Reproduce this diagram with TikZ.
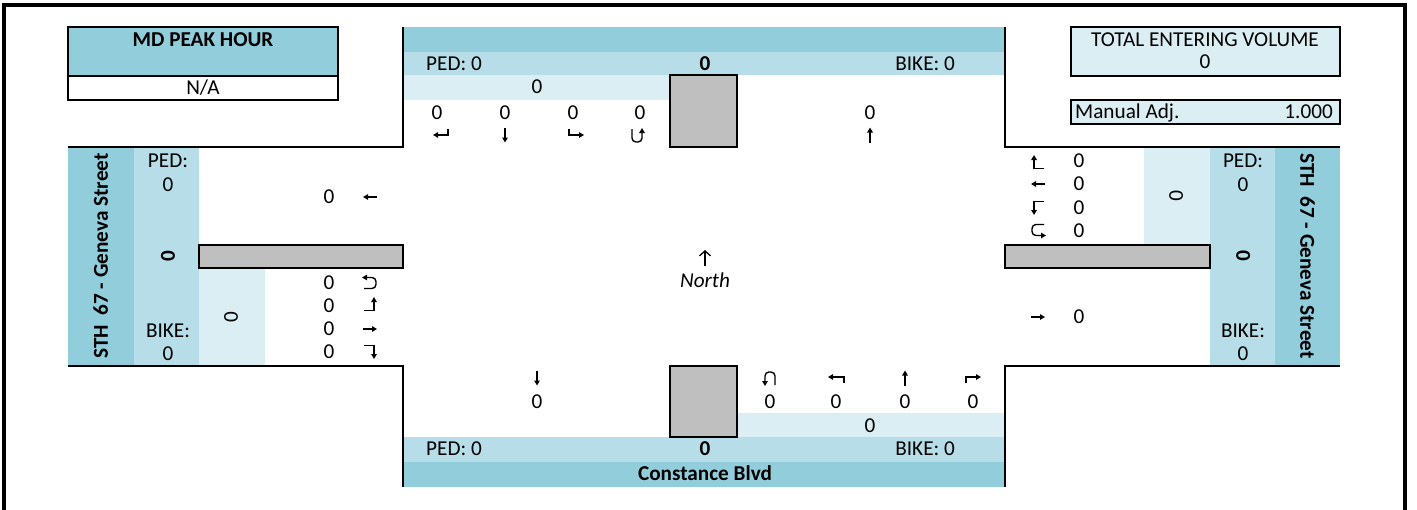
\documentclass[tikz,border=0pt]{standalone}
\usepackage{fontspec}
\setmainfont{Carlito}
\usetikzlibrary{arrows.meta}
\definecolor{cdark}{HTML}{92CDDC}
\definecolor{cmed}{HTML}{B7DEE8}
\definecolor{clight}{HTML}{DAEEF3}
\definecolor{cgray}{HTML}{BFBFBF}
\tikzset{
  t/.style={inner sep=0pt,text height=13.5pt,text depth=0pt,font=\fontsize{21.2}{25}\selectfont},
  tb/.style={t,font=\fontsize{21.2}{25}\selectfont\bfseries},
  ti/.style={t,font=\fontsize{21.2}{25}\selectfont\itshape},
  edge/.style={line width=2.6pt},
  gbox/.style={fill=cgray,draw=black,line width=2.6pt},
  ar/.style={line width=1.4pt,-{Triangle[length=5pt,width=5.5pt]}},
  uar/.style={ar,rounded corners=4pt},
  gS/.pic={\draw[ar] (0,-7.5)--(0,7.5);},
  gN/.pic={\draw[ar] (0,7.5)--(0,-7.5);},
  gW/.pic={\draw[ar] (7,0)--(-7,0);},
  gE/.pic={\draw[ar] (-7,0)--(7,0);},
  gSR/.pic={\draw[ar] (7,-6)--(7,0)--(-8,0);},
  gSL/.pic={\draw[ar] (-7,-6)--(-7,0)--(8,0);},
  gSU/.pic={\draw[uar] (-5,-6)--(-5,7)--(5,7)--(5,-7);},
  gNU/.pic={\draw[uar] (5,7)--(5,-6)--(-5,-6)--(-5,8);},
  gNL/.pic={\draw[ar] (8,6)--(8,0)--(-8,0);},
  gNR/.pic={\draw[ar] (-7,6)--(-7,0)--(8,0);},
  gWR/.pic={\draw[ar] (6,6.5)--(-4,6.5)--(-4,-7);},
  gWL/.pic={\draw[ar] (6,-6.5)--(-4,-6.5)--(-4,7);},
  gWU/.pic={\draw[uar] (6,-5.5)--(-6,-5.5)--(-6,5.5)--(8,5.5);},
  gEU/.pic={\draw[uar] (-6,5.5)--(6,5.5)--(6,-5.5)--(-8,-5.5);},
  gEL/.pic={\draw[ar] (-6,6.5)--(4,6.5)--(4,-7);},
  gER/.pic={\draw[ar] (-6,-6.5)--(4,-6.5)--(4,7);},
}
\begin{document}
\begin{tikzpicture}[x=1pt,y=-1pt,line join=miter]
\useasboundingbox (0,0) rectangle (1417,509);
\clip (0,0) rectangle (1417,509);
% outer frame
\draw[line width=4pt] (4,530) -- (4,4.5) -- (1405,4.5) -- (1405,530);
% MD box
\fill[cdark] (68,27) rectangle (338,76);
\draw[edge] (68,27) rectangle (338,100);
\draw[edge] (68,76) -- (338,76);
\node[tb] (mdt) at (203,40) {MD PEAK HOUR};
\node[t] (mdv) at (203,88) {N/A};
% fills
\fill[cdark] (403,27) rectangle (1005,52);
\fill[cmed] (403,52) rectangle (1005,75);
\fill[clight] (403,75) rectangle (670,100);
\fill[clight] (737,413) rectangle (1005,437);
\fill[cmed] (403,437) rectangle (1005,462);
\fill[cdark] (403,462) rectangle (1005,487);
\fill[cdark] (68,147) rectangle (134,366);
\fill[cmed] (134,147) rectangle (199,366);
\fill[clight] (199,268) rectangle (265,366);
\fill[clight] (1144,147) rectangle (1210,245);
\fill[cmed] (1210,147) rectangle (1275,366);
\fill[cdark] (1275,147) rectangle (1340,366);
% gray islands
\draw[gbox] (670,75) rectangle (737,147);
\draw[gbox] (670,366) rectangle (737,437);
\draw[gbox] (199,245) rectangle (403,268);
\draw[gbox] (1005,245) rectangle (1210,268);
% road edges
\draw[edge] (403,27) -- (403,147) -- (68,147);
\draw[edge] (68,366) -- (403,366) -- (403,487);
\draw[edge] (1005,27) -- (1005,147) -- (1340,147);
\draw[edge] (1340,366) -- (1005,366) -- (1005,487);
% top-right boxes
\draw[edge,fill=clight] (1071,27) rectangle (1340,76);
\node[t] (tev) at (1205,40) {TOTAL ENTERING VOLUME};
\node[t] (tevn) at (1205,62) {0};
\draw[edge,fill=clight] (1071,100) rectangle (1340,124);
\node[t,anchor=west] (madj) at (1075,112) {Manual Adj.};
\node[t,anchor=east] (madjv) at (1333,112) {1.000};
% top approach
\node[t,anchor=west] (tped) at (426,64) {PED: 0};
\node[tb] (ttot) at (705,64) {0};
\node[t,anchor=east] (tbike) at (955,64) {BIKE: 0};
\node[t] (tlt) at (537,87) {0};
\node[t] (tn1) at (437,113) {0};
\node[t] (tn2) at (505,113) {0};
\node[t] (tn3) at (573,113) {0};
\node[t] (tn4) at (640,113) {0};
\node[t] (tn5) at (870,113) {0};
\pic at (441,135) {gSR};
\pic at (505,135) {gS};
\pic at (576,135) {gSL};
\pic at (637,135) {gSU};
\pic at (870,135) {gN};
% north
\draw[line width=1.3pt,-{Straight Barb[length=5pt,width=11pt]}] (705,266) -- (705,250);
\node[ti] (north) at (705,281) {North};
% bottom approach
\pic at (537,378) {gS};
\node[t] (bdep) at (537,402) {0};
\pic at (770,378) {gNU};
\pic at (836,377) {gNL};
\pic at (905,378) {gN};
\pic at (973,377) {gNR};
\node[t] (bn1) at (770,402) {0};
\node[t] (bn2) at (836,402) {0};
\node[t] (bn3) at (905,402) {0};
\node[t] (bn4) at (973,402) {0};
\node[t] (blt) at (870,426) {0};
\node[t,anchor=west] (bped) at (426,449) {PED: 0};
\node[tb] (btot) at (705,449) {0};
\node[t,anchor=east] (bbike) at (955,449) {BIKE: 0};
\node[tb] (bname) at (705,474) {Constance Blvd};
% left approach
\node[tb,rotate=90] (lname) at (101,256) {STH\ \ 67 - Geneva Street};
\node[t] (lped) at (168,161) {PED:};
\node[t] (lpedv) at (168,185) {0};
\node[tb,rotate=90] (ltot) at (168,256) {0};
\node[t] (lbike) at (168,331) {BIKE:};
\node[t] (lbikev) at (168,354) {0};
\node[t,rotate=90] (llt) at (231,317) {0};
\node[t] (ldep) at (329,197) {0};
\pic at (370,197) {gW};
\node[t] (ln1) at (329,283) {0};
\node[t] (ln2) at (329,306) {0};
\node[t] (ln3) at (329,329) {0};
\node[t] (ln4) at (329,352) {0};
\pic at (370,283) {gEU};
\pic at (370,304) {gEL};
\pic at (370,329) {gE};
\pic at (370,352) {gER};
% right approach
\node[tb,rotate=-90] (rname) at (1307,256) {STH\ \ 67 - Geneva Street};
\node[t] (rped) at (1243,161) {PED:};
\node[t] (rpedv) at (1243,185) {0};
\node[tb,rotate=-90] (rtot) at (1243,256) {0};
\node[t] (rbike) at (1243,331) {BIKE:};
\node[t] (rbikev) at (1243,354) {0};
\node[t,rotate=-90] (rlt) at (1176,196) {0};
\pic at (1038,162) {gWR};
\pic at (1038,184) {gW};
\pic at (1038,208) {gWL};
\pic at (1038,230) {gWU};
\node[t] (rn1) at (1079,161) {0};
\node[t] (rn2) at (1079,184) {0};
\node[t] (rn3) at (1079,208) {0};
\node[t] (rn4) at (1079,231) {0};
\pic at (1038,317) {gE};
\node[t] (rdep) at (1079,317) {0};
\end{tikzpicture}
\end{document}
